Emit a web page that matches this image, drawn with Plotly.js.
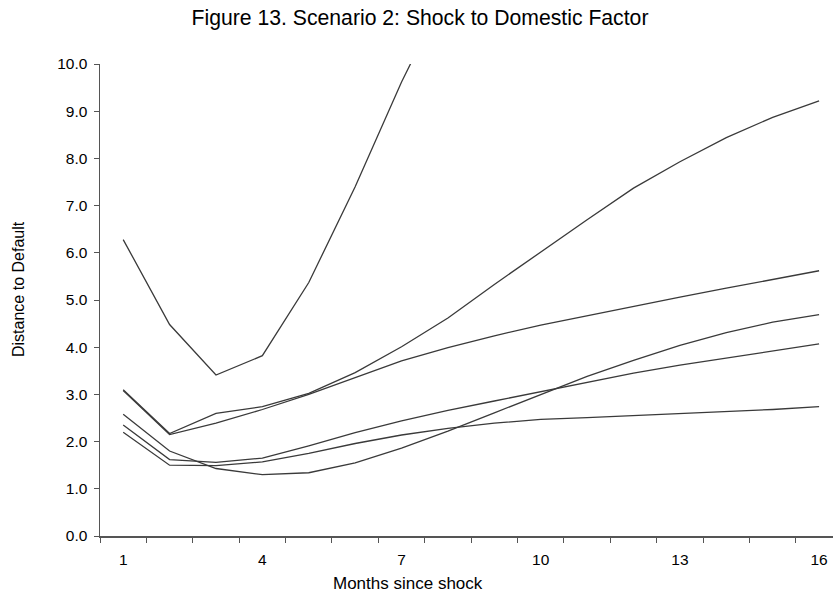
<!DOCTYPE html>
<html>
<head>
<meta charset="utf-8">
<script src="https://cdn.plot.ly/plotly-3.0.1.min.js"></script>
<style>
  html, body { margin: 0; padding: 0; background: #ffffff; }
  #chart { width: 833px; height: 593px; }
</style>
</head>
<body>
<div id="chart"></div>
<script>
// Months since shock (category positions 1..16)
const months = [1, 2, 3, 4, 5, 6, 7, 8, 9, 10, 11, 12, 13, 14, 15, 16];

// Distance to Default series
const seriesA = [6.28, 4.48, 3.41, 3.82, 5.37, 7.40, 9.62, 11.6];
const seriesB = [3.10, 2.17, 2.60, 2.74, 3.02, 3.46, 4.01, 4.62, 5.33, 6.02, 6.70, 7.37, 7.93, 8.44, 8.87, 9.22];
const seriesC = [3.08, 2.15, 2.39, 2.68, 3.00, 3.36, 3.71, 3.99, 4.24, 4.47, 4.67, 4.87, 5.06, 5.25, 5.43, 5.62];
const seriesD = [2.58, 1.80, 1.43, 1.30, 1.34, 1.55, 1.86, 2.22, 2.61, 3.00, 3.38, 3.72, 4.04, 4.31, 4.53, 4.69];
const seriesE = [2.35, 1.62, 1.56, 1.65, 1.91, 2.19, 2.44, 2.66, 2.86, 3.06, 3.26, 3.45, 3.62, 3.77, 3.92, 4.07];
const seriesF = [2.20, 1.50, 1.49, 1.57, 1.75, 1.96, 2.14, 2.28, 2.39, 2.47, 2.51, 2.55, 2.59, 2.63, 2.68, 2.74];

const labelMonths = [1, 4, 7, 10, 13, 16];
const yTicks = [0, 1, 2, 3, 4, 5, 6, 7, 8, 9, 10];

const titleText = 'Figure 13. Scenario 2: Shock to Domestic Factor';
const xTitleText = 'Months since shock';
const yTitleText = 'Distance to Default';

const allSeries = [seriesA, seriesB, seriesC, seriesD, seriesE, seriesF];
const lineColor = '#3a3a3a';

const traces = allSeries.map(function (s) {
  return {
    type: 'scatter',
    mode: 'lines',
    x: months.slice(0, s.length),
    y: s,
    line: { color: lineColor, width: 1.3 },
    showlegend: false,
    hoverinfo: 'x+y'
  };
});

const fontFam = '"Liberation Sans", Arial, sans-serif';

const layout = {
  width: 833,
  height: 593,
  paper_bgcolor: '#ffffff',
  plot_bgcolor: '#ffffff',
  margin: { l: 100, r: 0, t: 64, b: 57, pad: 0 },
  showlegend: false,
  font: { family: fontFam, color: '#000000' },
  title: {
    text: titleText,
    font: { family: fontFam, size: 21.2, color: '#000000' },
    xref: 'container', x: 420 / 833, xanchor: 'center',
    yref: 'container', y: 1 - 18 / 593, yanchor: 'middle'
  },
  xaxis: {
    range: [0.5, 16.3],
    tickmode: 'array',
    tickvals: labelMonths,
    ticktext: labelMonths.map(String),
    ticks: '',
    showgrid: false,
    zeroline: false,
    showline: true,
    linecolor: '#555555',
    linewidth: 1.5,
    tickfont: { family: fontFam, size: 15.5, color: '#000000' },
    minor: {
      tickmode: 'linear',
      tick0: 0.5,
      dtick: 1,
      ticks: 'outside',
      ticklen: 5,
      tickwidth: 1,
      tickcolor: '#555555',
      showgrid: false
    },
    ticklabelstandoff: 9,
    automargin: false
  },
  yaxis: {
    range: [0, 10],
    tickmode: 'array',
    tickvals: yTicks,
    tickformat: '.1f',
    ticks: 'outside',
    ticklen: 5,
    tickwidth: 1,
    tickcolor: '#555555',
    showgrid: false,
    zeroline: false,
    showline: true,
    linecolor: '#555555',
    linewidth: 1.5,
    tickfont: { family: fontFam, size: 15.5, color: '#000000' },
    ticklabelstandoff: 3,
    automargin: false
  },
  annotations: [
    {
      text: xTitleText,
      xref: 'paper', yref: 'paper',
      x: (408 - 100) / 733, xanchor: 'center',
      y: -(583 - 536) / 472, yanchor: 'middle',
      showarrow: false,
      font: { family: fontFam, size: 17, color: '#000000' }
    },
    {
      text: yTitleText,
      xref: 'paper', yref: 'paper',
      x: (18 - 100) / 733, xanchor: 'center',
      y: (536 - 289) / 472, yanchor: 'middle',
      textangle: -90,
      showarrow: false,
      font: { family: fontFam, size: 16, color: '#000000' }
    }
  ]
};

Plotly.newPlot('chart', traces, layout, { displayModeBar: false, staticPlot: true });
</script>
</body>
</html>
